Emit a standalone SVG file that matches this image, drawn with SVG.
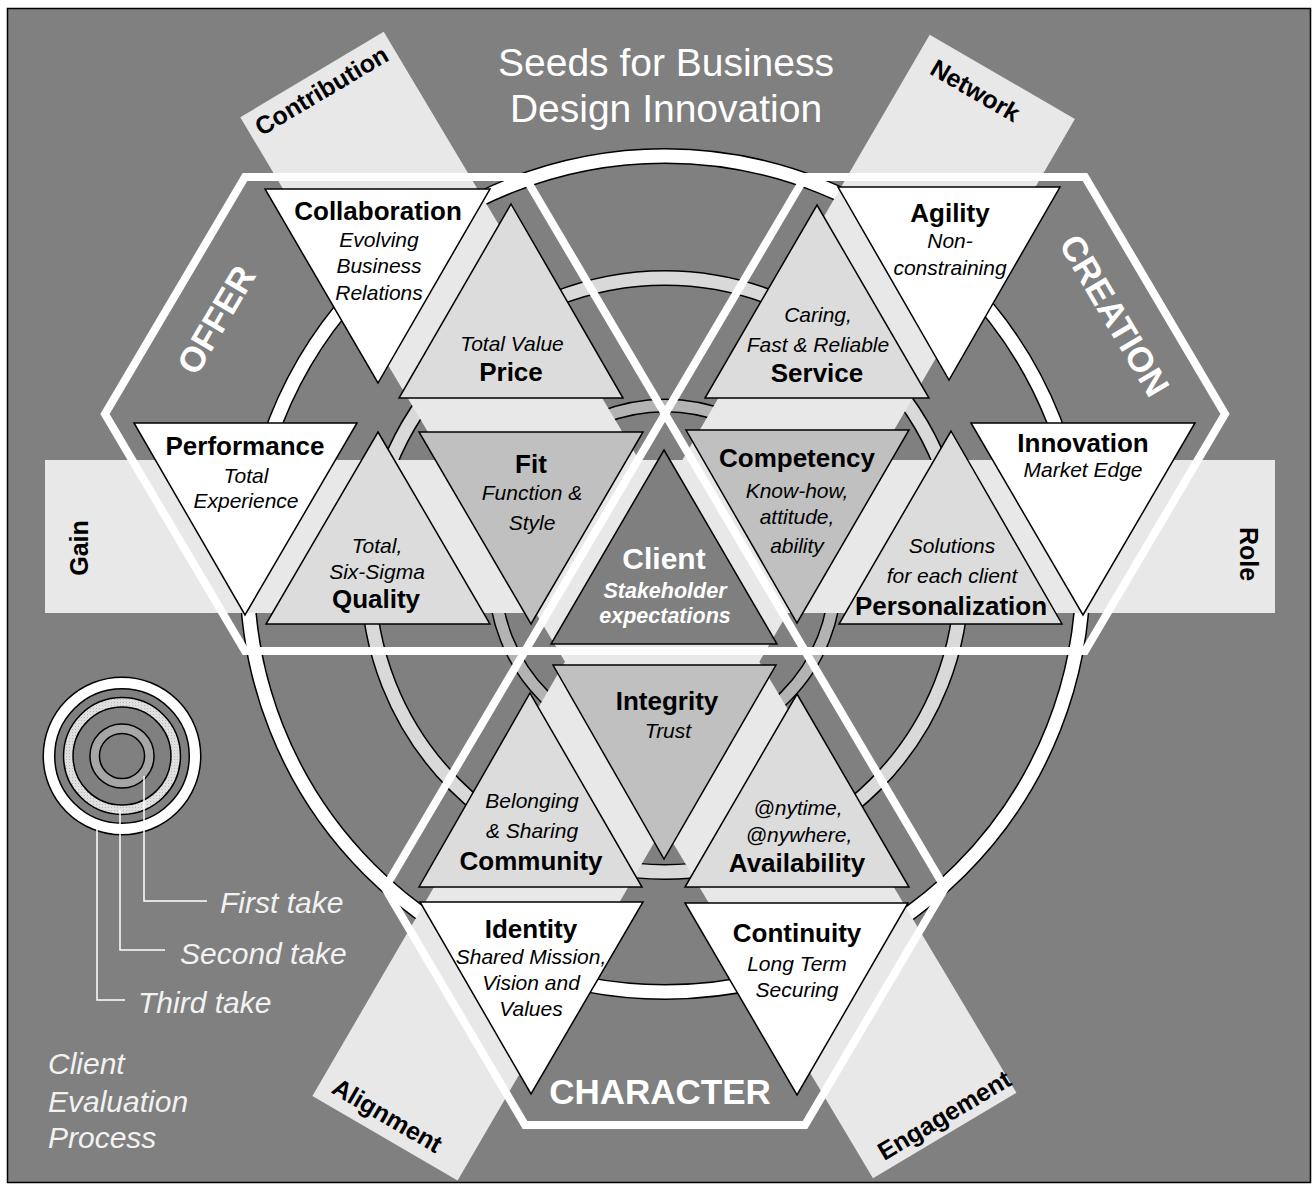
<svg xmlns="http://www.w3.org/2000/svg" width="1313" height="1189" viewBox="0 0 1313 1189">
<defs>
<style>
.bg{fill:#808080;stroke:#000;stroke-width:1.5}
.strip{fill:#e8e8e8;stroke:none}
.hex{fill:none;stroke:#fff;stroke-width:8;stroke-linejoin:miter}
.tri{stroke:#000;stroke-width:1.5;stroke-linejoin:miter}
.w{fill:#fff}.l{fill:#dcdcdc}.m{fill:#c0c0c0}.d{fill:#7f7f7f}
.ringk{fill:none;stroke:#000}
.tt{font-family:"Liberation Sans",Arial,sans-serif;font-weight:bold;font-size:26px;fill:#000;text-anchor:middle}
.st{font-family:"Liberation Sans",Arial,sans-serif;font-style:italic;font-size:21px;fill:#000;text-anchor:middle}
.band{font-family:"Liberation Sans",Arial,sans-serif;font-weight:bold;font-size:25px;fill:#000;text-anchor:middle}
.hx{font-family:"Liberation Sans",Arial,sans-serif;font-weight:bold;font-size:35px;fill:#fff;text-anchor:middle}
.lg{font-family:"Liberation Sans",Arial,sans-serif;font-style:italic;font-size:30px;fill:#f2f2f2}
.ttl{font-family:"Liberation Sans",Arial,sans-serif;font-size:39px;fill:#fff;text-anchor:middle}
</style>
<pattern id="dots" width="3" height="3" patternUnits="userSpaceOnUse">
<rect width="3" height="3" fill="#e0e0e0"/>
<rect width="1" height="1" fill="#b8b8b8"/>
</pattern>
</defs>

<rect x="0" y="0" width="1313" height="1189" fill="#fff"/>
<rect class="bg" x="7.5" y="8.5" width="1303" height="1174"/>

<!-- title -->
<g id="title">
<text class="ttl" x="666" y="76">Seeds for Business</text>
<text class="ttl" x="666" y="122">Design Innovation</text>
</g>

<!-- rings -->
<g id="rings">
<circle class="ringk" cx="665" cy="574" r="418" stroke-width="16"/>
<circle cx="665" cy="574" r="418" fill="none" stroke="#fff" stroke-width="13"/>
<circle class="ringk" cx="665" cy="575" r="297" stroke-width="16"/>
<circle cx="665" cy="575" r="297" fill="none" stroke="#d9d9d9" stroke-width="13"/>
<circle class="ringk" cx="665" cy="576" r="170.5" stroke-width="14"/>
<circle cx="665" cy="576" r="170.5" fill="none" stroke="#b3b3b3" stroke-width="11"/>
</g>

<!-- bands -->
<g id="bands">
<rect class="strip" x="45" y="460" width="1230" height="153"/>
<polygon class="strip" points="240.3,117.3 383.7,31.7 1016.4,1092.7 873,1178.3"/>
<polygon class="strip" points="929.7,34.7 1074.9,119.1 457.6,1180.5 312.4,1096.1"/>
<text class="band" transform="translate(88,548) rotate(-90)">Gain</text>
<text class="band" transform="translate(1240,554) rotate(90)">Role</text>
<text class="band" transform="translate(326,98) rotate(-30.8)">Contribution</text>
<text class="band" transform="translate(971,98) rotate(30.2)">Network</text>
<text class="band" transform="translate(383,1123) rotate(30.2)">Alignment</text>
<text class="band" transform="translate(948.6,1122.7) rotate(-30.8)">Engagement</text>
</g>

<!-- hexagons (connectors) -->
<g id="connectors">
<polygon class="hex" points="525,177 245,177 105,414 245,651 525,651 665,414"/>
<polygon class="hex" points="805,177 1085,177 1225,414 1085,651 805,651 665,414"/>
<polygon class="hex" points="525,651 805,651 945,888 805,1125 525,1125 385,888"/>
</g>

<g id="hex-labels">
<text class="hx" transform="translate(226.6,326) rotate(-59.4)">OFFER</text>
<text class="hx" transform="translate(1104,321.6) rotate(59.4)">CREATION</text>
<text class="hx" x="660" y="1104">CHARACTER</text>
</g>

<!-- triangles -->
<g id="collaboration">
<polygon class="tri w" points="265,189 490,189 378,383"/>
<text class="tt" x="378" y="220">Collaboration</text>
<text class="st" x="379" y="247">Evolving</text>
<text class="st" x="379" y="273">Business</text>
<text class="st" x="379" y="300">Relations</text>
</g>
<g id="price">
<polygon class="tri l" points="511,204 623,398 399,398"/>
<text class="st" x="512" y="351">Total Value</text>
<text class="tt" x="511" y="381">Price</text>
</g>
<g id="service">
<polygon class="tri l" points="817,205 929,398 705,398"/>
<text class="st" x="818" y="322">Caring,</text>
<text class="st" x="818" y="352">Fast &amp; Reliable</text>
<text class="tt" x="817" y="382">Service</text>
</g>
<g id="agility">
<polygon class="tri w" points="838,187 1060,187 949,380"/>
<text class="tt" x="950" y="222">Agility</text>
<text class="st" x="950" y="248">Non-</text>
<text class="st" x="950" y="275">constraining</text>
</g>
<g id="performance">
<polygon class="tri w" points="134,423 357,423 245,615"/>
<text class="tt" x="245" y="455">Performance</text>
<text class="st" x="246" y="483">Total</text>
<text class="st" x="246" y="508">Experience</text>
</g>
<g id="quality">
<polygon class="tri l" points="378,432 490,624 266,624"/>
<text class="st" x="377" y="553">Total,</text>
<text class="st" x="377" y="579">Six-Sigma</text>
<text class="tt" x="376" y="608">Quality</text>
</g>
<g id="fit">
<polygon class="tri m" points="419,432 643,432 531,624"/>
<text class="tt" x="531" y="473">Fit</text>
<text class="st" x="532" y="500">Function &amp;</text>
<text class="st" x="532" y="530">Style</text>
</g>
<g id="client">
<polygon class="tri d" points="664,450 777,644 551,644"/>
<text class="tt" x="664" y="569" style="font-size:30px;fill:#fff">Client</text>
<text class="tt" x="665" y="598" style="font-size:21.5px;font-style:italic;fill:#fff">Stakeholder</text>
<text class="tt" x="665" y="623" style="font-size:21.5px;font-style:italic;fill:#fff">expectations</text>
</g>
<g id="competency">
<polygon class="tri m" points="686,430 909,430 797,623"/>
<text class="tt" x="797" y="467">Competency</text>
<text class="st" x="797" y="498">Know-how,</text>
<text class="st" x="797" y="524">attitude,</text>
<text class="st" x="797" y="553">ability</text>
</g>
<g id="personalization">
<polygon class="tri l" points="951,431 1062,624 839,624"/>
<text class="st" x="952" y="553">Solutions</text>
<text class="st" x="952" y="583">for each client</text>
<text class="tt" x="951" y="615">Personalization</text>
</g>
<g id="innovation">
<polygon class="tri w" points="971,423 1195,423 1083,615"/>
<text class="tt" x="1083" y="452">Innovation</text>
<text class="st" x="1083" y="477">Market Edge</text>
</g>
<g id="integrity">
<polygon class="tri m" points="553,665 776,665 664,859"/>
<text class="tt" x="667" y="710">Integrity</text>
<text class="st" x="668" y="738">Trust</text>
</g>
<g id="community">
<polygon class="tri l" points="530,693 642,887 419,887"/>
<text class="st" x="532" y="808">Belonging</text>
<text class="st" x="532" y="838">&amp; Sharing</text>
<text class="tt" x="531" y="870">Community</text>
</g>
<g id="availability">
<polygon class="tri l" points="797,694 909,887 685,887"/>
<text class="st" x="798" y="815">@nytime,</text>
<text class="st" x="799" y="842">@nywhere,</text>
<text class="tt" x="797" y="872">Availability</text>
</g>
<g id="identity">
<polygon class="tri w" points="420,902 643,902 531,1094"/>
<text class="tt" x="531" y="938">Identity</text>
<text class="st" x="531" y="964">Shared Mission,</text>
<text class="st" x="531" y="990">Vision and</text>
<text class="st" x="531" y="1016">Values</text>
</g>
<g id="continuity">
<polygon class="tri w" points="685,903 908,903 797,1095"/>
<text class="tt" x="797" y="942">Continuity</text>
<text class="st" x="797" y="971">Long Term</text>
<text class="st" x="797" y="997">Securing</text>
</g>

<!-- legend -->
<g id="legend">
<circle cx="122" cy="756" r="73" fill="none" stroke="#000" stroke-width="13"/>
<circle cx="122" cy="756" r="73" fill="none" stroke="#fff" stroke-width="10"/>
<circle cx="122" cy="756" r="53.7" fill="none" stroke="#000" stroke-width="11"/>
<circle cx="122" cy="756" r="53.7" fill="none" stroke="url(#dots)" stroke-width="8"/>
<circle cx="122" cy="756" r="27.3" fill="none" stroke="#000" stroke-width="11"/>
<circle cx="122" cy="756" r="27.3" fill="none" stroke="#a6a6a6" stroke-width="8"/>
<polyline points="144,776 144,901 207,901" fill="none" stroke="#fff" stroke-width="1.5"/>
<polyline points="120,810 120,950 165,950" fill="none" stroke="#fff" stroke-width="1.5"/>
<polyline points="97,829 97,1000 125,1000" fill="none" stroke="#fff" stroke-width="1.5"/>
<text class="lg" x="220" y="913">First take</text>
<text class="lg" x="180" y="964">Second take</text>
<text class="lg" x="138" y="1013">Third take</text>
<text class="lg" x="48" y="1074">Client</text>
<text class="lg" x="48" y="1112">Evaluation</text>
<text class="lg" x="48" y="1148">Process</text>
</g>
</svg>
